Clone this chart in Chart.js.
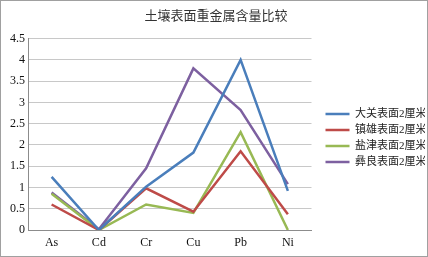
<!DOCTYPE html>
<html>
<head>
<meta charset="utf-8">
<script src="https://cdn.jsdelivr.net/npm/chart.js@4/dist/chart.umd.min.js"></script>
<style>
  html, body { margin: 0; padding: 0; background: #fff; }
  #wrap { width: 428px; height: 257px; box-sizing: border-box; border: 1px solid #a0a0a0; }
</style>
</head>
<body>
<div id="wrap"><canvas id="lineChart" width="426" height="255"></canvas></div>
<script>
var metals = ['As', 'Cd', 'Cr', 'Cu', 'Pb', 'Ni'];
var daguan = [1.25, 0, 1.02, 1.82, 4.0, 0.92];
var zhenxiong = [0.6, 0, 0.98, 0.43, 1.85, 0.37];
var yanjin = [0.85, 0, 0.6, 0.4, 2.3, 0];
var yiliang = [0.88, 0.02, 1.45, 3.8, 2.82, 1.08];
var seriesNames = ['大关表面2厘米', '镇雄表面2厘米', '盐津表面2厘米', '彝良表面2厘米'];

// leave a small gap between the plot and the legend
var legendGap = {
    id: 'legendGap',
    beforeInit: function(chart) {
        var fit = chart.legend.fit;
        chart.legend.fit = function() { fit.call(this); this.width += 9; };
    },
    afterLayout: function(chart) { chart.legend.left += 9; }
};

window.onload = function() {
    var font = '"Liberation Serif", "Noto Sans CJK SC", serif';
    var ctx = document.getElementById('lineChart').getContext('2d');
    function ds(name, data, color) {
        return { label: name, data: data, borderColor: color, backgroundColor: color,
                 borderWidth: 2.5, pointRadius: 0, tension: 0 };
    }
    new Chart(ctx, {
        type: 'line',
        data: {
            labels: metals,
            datasets: [
                ds(seriesNames[0], daguan, '#4a7ebb'),
                ds(seriesNames[1], zhenxiong, '#be4b48'),
                ds(seriesNames[2], yanjin, '#98b954'),
                ds(seriesNames[3], yiliang, '#7d60a0')
            ]
        },
        plugins: [legendGap],
        options: {
            responsive: false,
            animation: false,
            layout: { padding: { left: 6, right: 2, top: 4, bottom: 0 } },
            plugins: {
                title: {
                    display: true,
                    text: '土壤表面重金属含量比较',
                    color: '#333',
                    font: { family: font, size: 13, weight: 'normal' },
                    padding: { top: 4, bottom: 14 }
                },
                legend: {
                    position: 'right',
                    title: { display: true, text: '', font: { size: 10, lineHeight: 1 }, padding: { top: 0, bottom: 5 } },
                    labels: {
                        usePointStyle: true,
                        pointStyle: 'line',
                        pointStyleWidth: 24,
                        boxHeight: 2,
                        padding: 5,
                        color: '#222',
                        font: { family: font, size: 11 }
                    }
                },
                tooltip: { enabled: false }
            },
            scales: {
                x: {
                    offset: true,
                    grid: { display: false, drawTicks: false },
                    border: { color: '#8c8c8c' },
                    ticks: { padding: 7, color: '#111', font: { family: font, size: 12, lineHeight: 1 } }
                },
                y: {
                    min: 0,
                    max: 4.5,
                    ticks: {
                        stepSize: 0.5,
                        color: '#111',
                        font: { family: font, size: 12 },
                        callback: function(v) { return String(v); }
                    },
                    grid: { color: '#c8c8c8', drawTicks: false },
                    border: { color: '#8c8c8c' }
                }
            }
        }
    });
};
</script>
</body>
</html>
